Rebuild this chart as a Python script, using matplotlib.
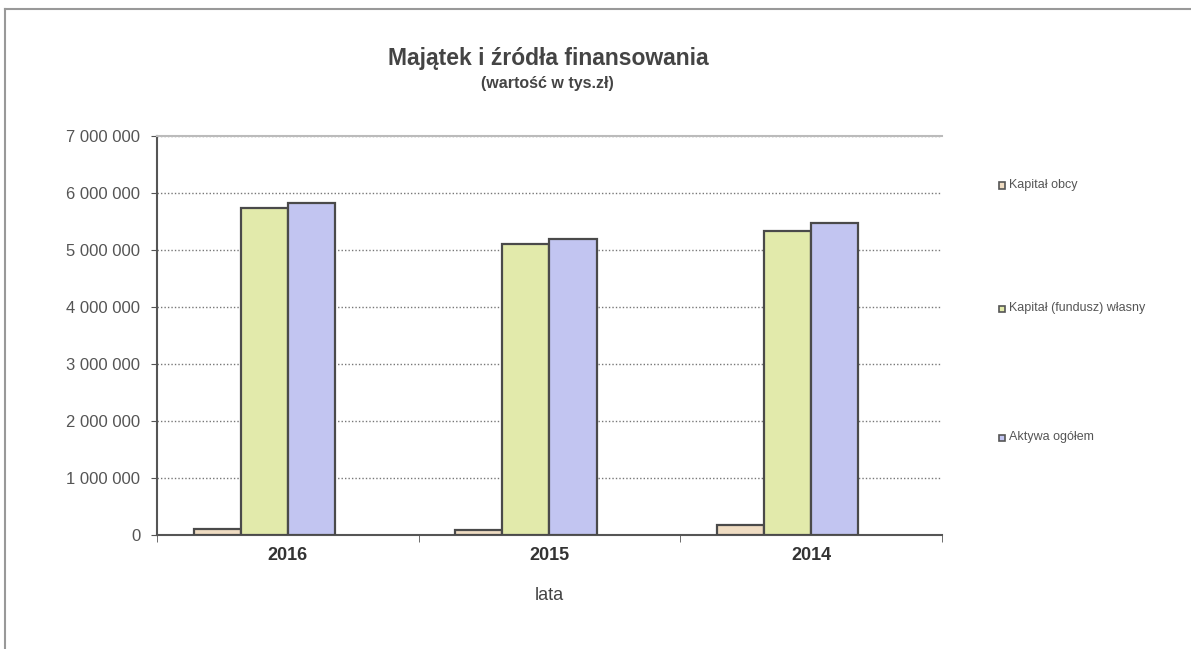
import numpy as np
import matplotlib
matplotlib.use("Agg")
import matplotlib.pyplot as plt
from matplotlib.patches import Rectangle
from matplotlib.lines import Line2D
from matplotlib.ticker import FuncFormatter

plt.rcParams['font.family'] = ['Liberation Sans', 'DejaVu Sans']

years = ['2016', '2015', '2014']
series = ['Kapitał obcy', 'Kapitał (fundusz) własny', 'Aktywa ogółem']
kapital_obcy = [100000, 90000, 170000]
kapital_wlasny = [5740000, 5100000, 5330000]
aktywa = [5820000, 5190000, 5470000]
colors = ['#efdcc2', '#e2eaab', '#c2c5f1']

values = [kapital_obcy, kapital_wlasny, aktywa]

fig = plt.figure(figsize=(11.91, 6.49), dpi=100)
ax = fig.add_axes([0.1318, 0.1757, 0.659, 0.6148])

x = np.arange(len(years))
w = 0.18
offsets = [-1.5 * w, -0.5 * w, 0.5 * w]
for vals, off, col, name in zip(values, offsets, colors, series):
    ax.bar(x + off, vals, width=w, color=col, edgecolor='#4a4a4a',
           linewidth=1.6, label=name, zorder=3)

ax.set_xlim(-0.5, 2.5)
ax.set_ylim(0, 7000000)
ax.set_yticks(np.arange(0, 7000001, 1000000))
ax.yaxis.set_major_formatter(FuncFormatter(lambda v, p: f"{int(v):,}".replace(',', ' ')))
ax.tick_params(axis='y', labelsize=12, labelcolor='#555555', length=4,
               color='#555555', pad=8)
ax.set_xticks(x)
ax.set_xticklabels(years, fontsize=13, fontweight='bold', color='#333333')
ax.set_xticks([-0.5, 0.5, 1.5, 2.5], minor=True)
ax.tick_params(axis='x', which='major', length=0, pad=9)
ax.tick_params(axis='x', which='minor', length=5, color='#555555')
ax.grid(axis='y', linestyle=(0, (1, 1.5)), color='#777777', linewidth=1.0, zorder=0)

ax.spines['right'].set_visible(False)
ax.spines['top'].set_color('#bbbbbb')
ax.spines['top'].set_linewidth(1.5)
ax.spines['left'].set_color('#555555')
ax.spines['left'].set_linewidth(1.5)
ax.spines['bottom'].set_color('#555555')
ax.spines['bottom'].set_linewidth(1.5)

ax.set_xlabel('lata', fontsize=13, color='#444444', labelpad=16)

fig.text(0.46, 0.91, 'Majątek i źródła finansowania', ha='center', va='center',
         fontsize=16.5, fontweight='bold', color='#444444')
fig.text(0.46, 0.871, '(wartość w tys.zł)', ha='center', va='center',
         fontsize=11.5, fontweight='bold', color='#444444')

# legend entries placed down the right side
leg_y = [0.715, 0.525, 0.326]
for name, col, yy in zip(series, colors, leg_y):
    fig.add_artist(Rectangle((0.8385, yy - 0.006), 0.0055, 0.010,
                             transform=fig.transFigure, facecolor=col,
                             edgecolor='#555555', linewidth=1.2))
    fig.text(0.847, yy, name, ha='left', va='center', fontsize=9,
             color='#555555')

# scanned frame border
fig.add_artist(Line2D([0.004, 1.0], [0.986, 0.986], transform=fig.transFigure,
                      color='#999999', linewidth=1.5))
fig.add_artist(Line2D([0.004, 0.004], [0.0, 0.986], transform=fig.transFigure,
                      color='#999999', linewidth=1.5))

fig.savefig('out.png', dpi=100)
